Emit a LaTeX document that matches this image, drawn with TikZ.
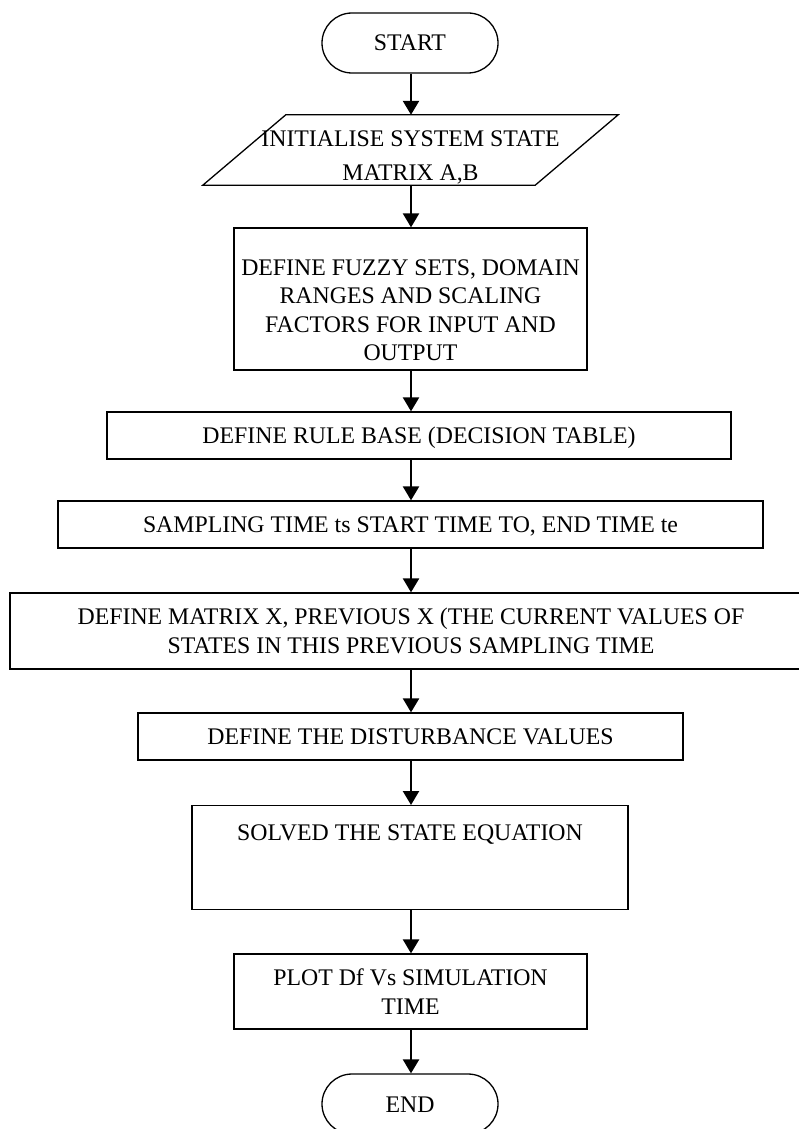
\documentclass[tikz,border=0pt]{standalone}
\usepackage{fontspec}
\setmainfont{Liberation Serif}
\usetikzlibrary{arrows.meta}
\begin{document}
\begin{tikzpicture}[x=1pt,y=-1pt,
  every node/.style={font=\fontsize{23.8}{28.5}\selectfont, inner sep=0pt},
  box/.style={draw, line width=1.3pt, align=center},
  oneline/.style={text height=16pt, text depth=0pt},
  term/.style={draw, line width=1.3pt, rounded corners=30pt, minimum width=176pt, minimum height=60pt, text height=16pt, text depth=0pt},
  flow/.style={line width=2.4pt, -{Triangle[width=16pt,length=14pt]}}]
\useasboundingbox (0,0) rectangle (799,1129);
\coordinate (ax) at (411,0);
% start
\node[term] (start) at (410,43) {START};
% parallelogram
\node[minimum width=332pt, minimum height=70pt] (initframe) at (410.5,150) {};
\draw[line width=1.3pt] ([xshift=41.5pt]initframe.north west) -- ([xshift=41.5pt]initframe.north east)
  -- ([xshift=-41.5pt]initframe.south east) -- ([xshift=-41.5pt]initframe.south west) -- cycle;
\node[align=center, font=\fontsize{23.8}{34}\selectfont] (inittext) at (410.5,157.5) {INITIALISE SYSTEM STATE\\MATRIX A,B};
% fuzzy sets
\node[box, minimum width=353pt, minimum height=142pt] (fuzzy) at (410.5,299) {};
\node[align=center] (fuzzytext) at (410.5,310) {DEFINE FUZZY SETS, DOMAIN\\RANGES AND SCALING\\FACTORS FOR INPUT AND\\OUTPUT};
% rule base
\node[box, oneline, minimum width=624pt, minimum height=47pt] (rule) at (419,435.5) {DEFINE RULE BASE (DECISION TABLE)};
% sampling
\node[box, oneline, minimum width=705pt, minimum height=47pt] (sampling) at (410.5,524.5) {SAMPLING TIME ts START TIME TO, END TIME te};
% matrix
\node[box, minimum width=802pt, minimum height=76pt] (matrix) at (411,631) {DEFINE MATRIX X, PREVIOUS X (THE CURRENT VALUES OF\\STATES IN THIS PREVIOUS SAMPLING TIME};
% disturbance
\node[box, oneline, minimum width=545pt, minimum height=47pt] (dist) at (410.5,736.5) {DEFINE THE DISTURBANCE VALUES};
% solve
\node[box, anchor=north, minimum width=436pt, text height=35pt, text depth=69pt] (solve) at (410,805) {SOLVED THE STATE EQUATION};
% plot
\node[box, minimum width=353pt, minimum height=75pt] (plot) at (410.5,991.5) {PLOT Df Vs SIMULATION\\TIME};
% end
\node[term] (stop) at (410,1104) {END};
% connectors
\draw[flow] (start.south -| ax) -- (initframe.north -| ax);
\draw[flow] (initframe.south -| ax) -- (fuzzy.north -| ax);
\draw[flow] (fuzzy.south -| ax) -- (rule.north -| ax);
\draw[flow] (rule.south -| ax) -- (sampling.north -| ax);
\draw[flow] (sampling.south -| ax) -- (matrix.north -| ax);
\draw[flow] (matrix.south -| ax) -- (dist.north -| ax);
\draw[flow] (dist.south -| ax) -- (solve.north -| ax);
\draw[flow] (solve.south -| ax) -- (plot.north -| ax);
\draw[flow] (plot.south -| ax) -- (stop.north -| ax);
\end{tikzpicture}
\end{document}
